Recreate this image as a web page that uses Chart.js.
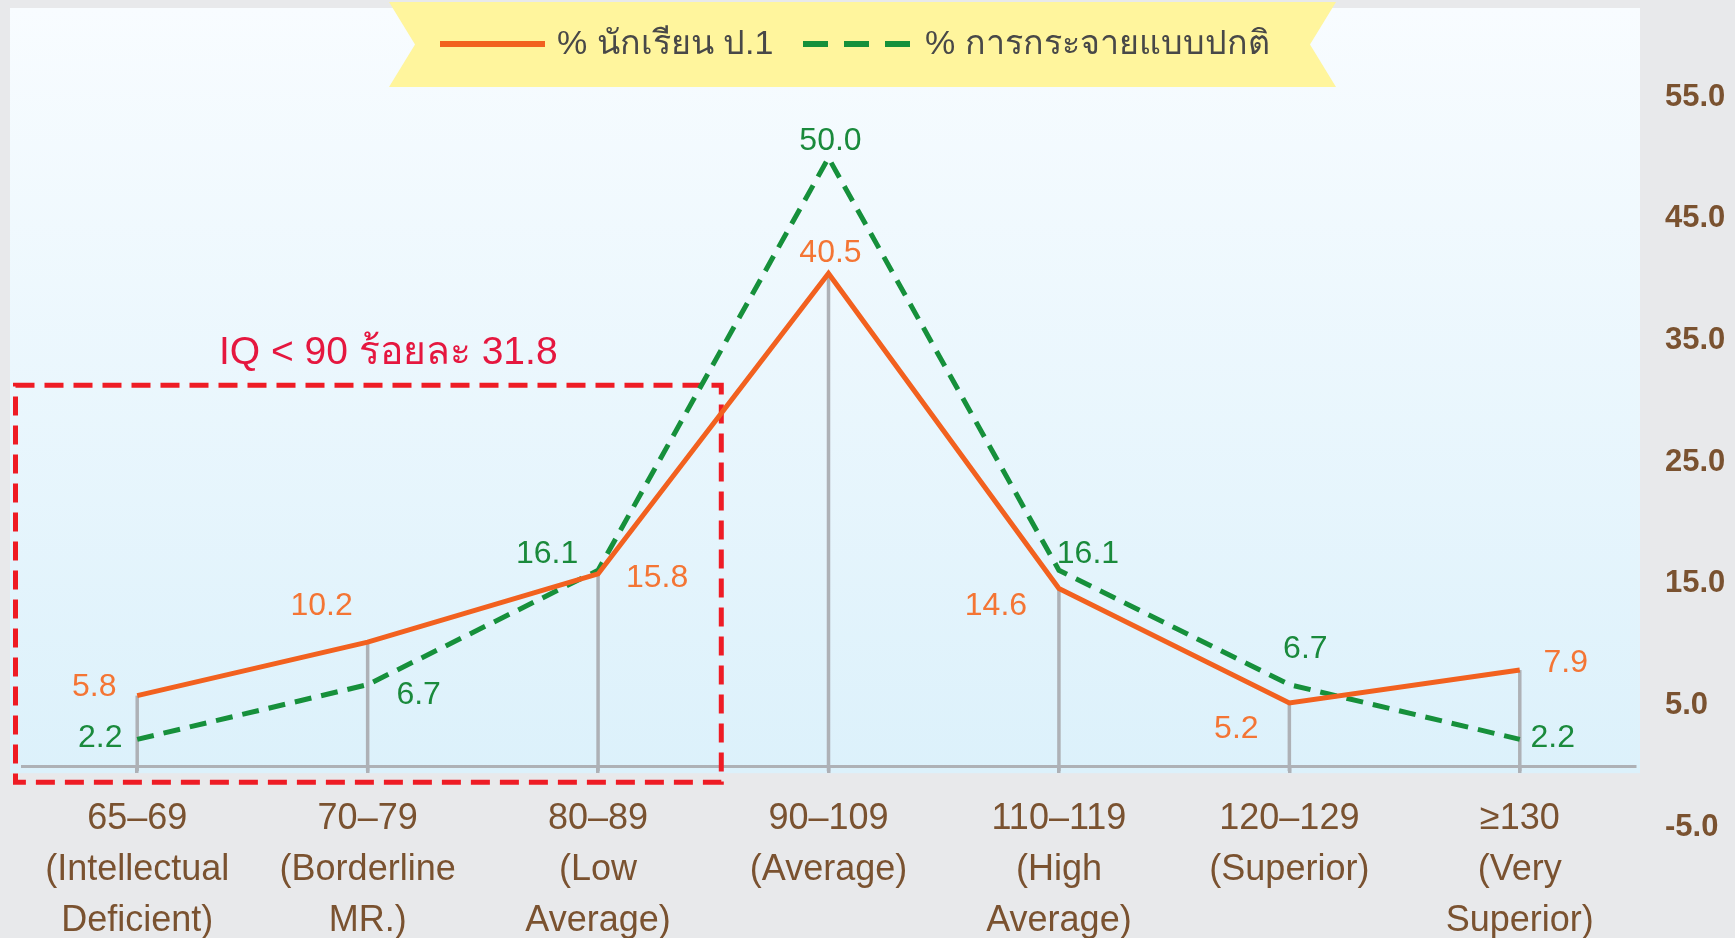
<!DOCTYPE html>
<html><head><meta charset="utf-8">
<script src="https://cdn.jsdelivr.net/npm/chart.js@4.4.1/dist/chart.umd.min.js"></script>
<style>html,body{margin:0;padding:0;background:#e8e9eb;}#wrap{width:1735px;height:938px;position:relative;}canvas{display:block;}</style>
</head><body><div id="wrap"><canvas id="c" width="1735" height="938"></canvas></div>
<script>
// ---- data ----
const categories = [
  ["65–69", "(Intellectual", "Deficient)"],
  ["70–79", "(Borderline", "MR.)"],
  ["80–89", "(Low", "Average)"],
  ["90–109", "(Average)"],
  ["110–119", "(High", "Average)"],
  ["120–129", "(Superior)"],
  ["≥130", "(Very", "Superior)"]
];
const studentPct = [5.8, 10.2, 15.8, 40.5, 14.6, 5.2, 7.9];
const normalPct = [2.2, 6.7, 16.1, 50.0, 16.1, 6.7, 2.2];
const yTicks = [-5, 5, 15, 25, 35, 45, 55];
const seriesNames = ["% นักเรียน ป.1", "% การกระจายแบบปกติ"];
const boxNote = "IQ < 90 ร้อยละ 31.8";
const boxTopValue = 31.3;

// ---- styles ----
const ORANGE = '#f2611f', ORANGE_TXT = '#f47534';
const GREEN = '#16903b', GREEN_TXT = '#1a8a3c';
const BROWN = '#7a5230';
const GREYLINE = '#aeb1b6';
const LATIN = "'Liberation Sans', 'Noto Sans', sans-serif";
// label offsets (px) relative to each point
const orangeOff = [[-43,-8],[-46,-36],[59,4],[2,-20],[-63,18],[-53,26],[46,-7]];
const greenOff  = [[-37,-1],[51,11],[-51,-16],[2,-17],[29,-16],[16,-35],[33,-1]];

const decor = {
  id: 'decor',
  beforeDraw(chart) {
    const {ctx, chartArea, scales: {x, y}} = chart;
    ctx.save();
    ctx.fillStyle = '#e8e9eb';
    ctx.fillRect(0, 0, chart.width, chart.height);
    const y0 = y.getPixelForValue(0);
    const l = chartArea.left - 12, r = chartArea.right + 5, t = 8, b = y0 + 7;
    const g = ctx.createLinearGradient(0, t, 0, b);
    g.addColorStop(0, '#f8fcff');
    g.addColorStop(1, '#dcf1fb');
    ctx.fillStyle = g;
    ctx.fillRect(l, t, r - l, b - t);
    ctx.restore();
  },
  beforeDatasetsDraw(chart) {
    const {ctx, chartArea, scales: {x, y}} = chart;
    const y0 = y.getPixelForValue(0);
    ctx.save();
    // drop lines from the student series
    ctx.strokeStyle = GREYLINE;
    ctx.lineWidth = 3.5;
    studentPct.forEach((v, i) => {
      const px = x.getPixelForValue(i);
      ctx.beginPath();
      ctx.moveTo(px, y.getPixelForValue(v));
      ctx.lineTo(px, y0 + 5);
      ctx.stroke();
    });
    // red dashed box around IQ < 90
    const bl = chartArea.left - 6.5;
    const br = (x.getPixelForValue(2) + x.getPixelForValue(3)) / 2 + 8;
    const bt = y.getPixelForValue(boxTopValue);
    const bb = y0 + 16;
    ctx.strokeStyle = '#ee1c25';
    ctx.lineWidth = 5;
    ctx.setLineDash([19, 10]);
    ctx.strokeRect(bl, bt, br - bl, bb - bt);
    ctx.setLineDash([]);
    ctx.fillStyle = '#e5173f';
    ctx.font = "39px " + LATIN;
    ctx.textBaseline = 'middle';
    ctx.textAlign = 'left';
    ctx.fillText(boxNote, 219, bt - 32);
    ctx.restore();
  },
  afterDatasetsDraw(chart) {
    const {ctx} = chart;
    ctx.save();
    ctx.font = "32px " + LATIN;
    ctx.textAlign = 'center';
    ctx.textBaseline = 'middle';
    const sets = [[0, studentPct, orangeOff, ORANGE_TXT], [1, normalPct, greenOff, GREEN_TXT]];
    sets.forEach(([di, vals, off, col]) => {
      const meta = chart.getDatasetMeta(di);
      ctx.fillStyle = col;
      meta.data.forEach((pt, i) => {
        ctx.fillText(vals[i].toFixed(1), pt.x + off[i][0], pt.y + off[i][1]);
      });
    });
    ctx.restore();
  },
  afterDraw(chart) {
    const {ctx} = chart;
    ctx.save();
    // ribbon banner
    const L = 389, R = 1336, T = 2, B = 87, N = 26, M = (T + B) / 2;
    ctx.fillStyle = '#fff59d';
    ctx.beginPath();
    ctx.moveTo(L, T); ctx.lineTo(R, T); ctx.lineTo(R - N, M); ctx.lineTo(R, B);
    ctx.lineTo(L, B); ctx.lineTo(L + N, M); ctx.closePath();
    ctx.fill();
    // series samples
    ctx.lineWidth = 6;
    ctx.strokeStyle = ORANGE;
    ctx.beginPath(); ctx.moveTo(440, 44); ctx.lineTo(545, 44); ctx.stroke();
    ctx.strokeStyle = GREEN;
    ctx.setLineDash([25, 16]);
    ctx.beginPath(); ctx.moveTo(803, 44); ctx.lineTo(911, 44); ctx.stroke();
    ctx.setLineDash([]);
    ctx.fillStyle = '#484848';
    ctx.font = "34px " + LATIN;
    ctx.textBaseline = 'middle';
    ctx.textAlign = 'left';
    ctx.fillText(seriesNames[0], 557, 45);
    ctx.fillText(seriesNames[1], 925, 45);
    ctx.restore();
  }
};

new Chart(document.getElementById('c'), {
  type: 'line',
  data: {
    labels: categories,
    datasets: [
      { label: seriesNames[0], data: studentPct, borderColor: ORANGE, borderWidth: 5,
        pointRadius: 0, tension: 0, borderJoinStyle: 'miter', fill: false },
      { label: seriesNames[1], data: normalPct, borderColor: GREEN, borderWidth: 5,
        borderDash: [17, 10], pointRadius: 0, tension: 0, borderJoinStyle: 'miter', fill: false }
    ]
  },
  options: {
    responsive: false,
    animation: false,
    layout: { padding: { left: 22, right: 0, top: 97, bottom: 111 } },
    plugins: { legend: { display: false }, tooltip: { enabled: false } },
    scales: {
      x: {
        type: 'category',
        position: { y: 0 },
        offset: true,
        grid: { display: true, drawOnChartArea: false, drawTicks: true, tickLength: 5, offset: false, color: GREYLINE, lineWidth: 3.5 },
        border: { display: true, color: GREYLINE, width: 3 },
        ticks: { autoSkip: false, maxRotation: 0, minRotation: 0, padding: 22, color: BROWN,
                 font: { family: LATIN, size: 36, lineHeight: 1.42 } }
      },
      y: {
        position: 'right',
        min: -5, max: 55,
        afterBuildTicks: s => { s.ticks = yTicks.map(v => ({ value: v })); },
        afterFit: s => { s.width = 100; },
        grid: { display: false, drawTicks: false },
        border: { display: false },
        ticks: { padding: 30, color: BROWN, font: { family: LATIN, size: 31, weight: 'bold' },
                 callback: v => Number(v).toFixed(1) }
      }
    }
  },
  plugins: [decor]
});
</script></body></html>
